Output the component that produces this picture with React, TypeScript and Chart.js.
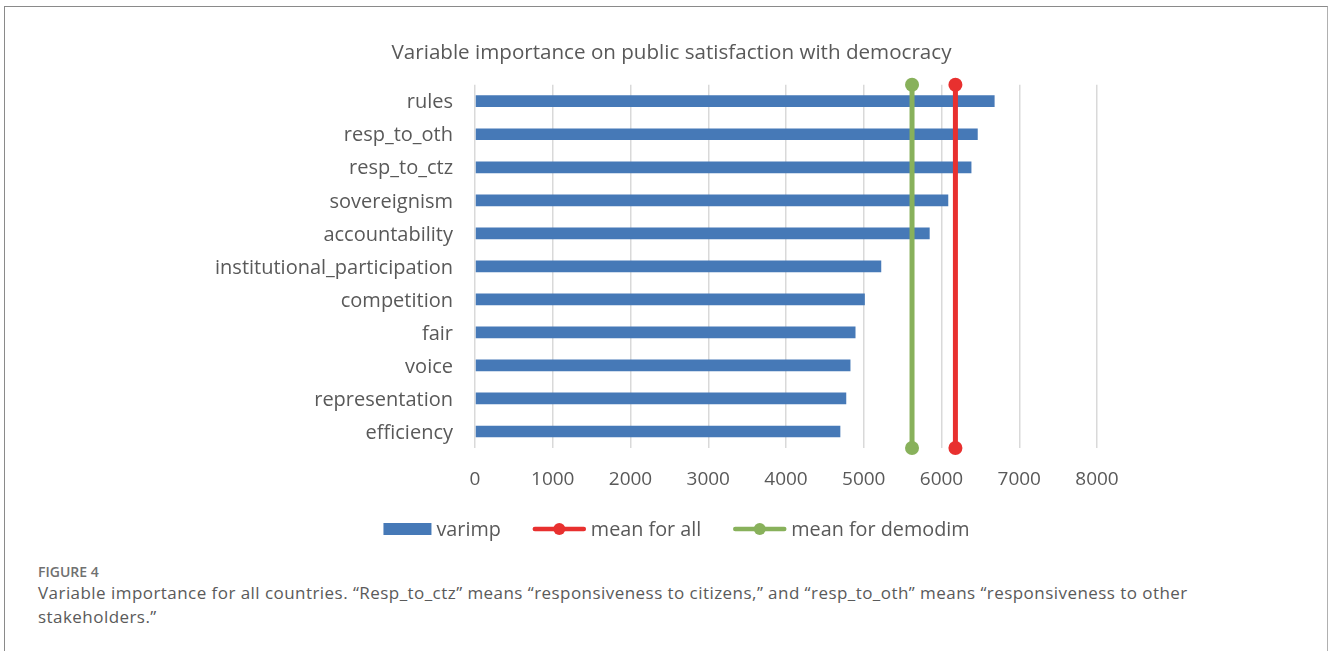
import React, { useEffect, useRef } from "react";
import { Chart, registerables } from "chart.js";

Chart.register(...registerables);

// Variable importance scores, top to bottom
const categories = [
  "rules",
  "resp_to_oth",
  "resp_to_ctz",
  "sovereignism",
  "accountability",
  "institutional_participation",
  "competition",
  "fair",
  "voice",
  "representation",
  "efficiency",
];
const varimp = [6683, 6466, 6385, 6087, 5848, 5225, 5014, 4894, 4829, 4775, 4699];

// Reference means, drawn as vertical lines spanning the plot
const meanForAll = 6179;
const meanForDemodim = 5621;
const meanSpan = [0, 1];

const xMin = 0;
const xMax = 8000;
const xStep = 1000;

const seriesNames = ["varimp", "mean for all", "mean for demodim"];

const FONT = "'Open Sans', sans-serif";
const TEXT = "#595959";
const BLUE = "#4679B7";
const RED = "#E8302F";
const GREEN = "#88B15B";

const PAD_LEFT = 13;

// Draws the series key under the axis: box for bars, line-with-dot for means
const seriesKey = {
  id: "seriesKey",
  afterDraw(chart: any) {
    const ctx = chart.ctx as CanvasRenderingContext2D;
    ctx.save();
    ctx.font = `19.8px ${FONT}`;
    ctx.textBaseline = "middle";
    const colors = [BLUE, RED, GREEN];
    const symW = [48, 53, 53];
    const symGap = 5;
    const itemGap = 32;
    const widths = seriesNames.map((n, i) => symW[i] + symGap + ctx.measureText(n).width);
    const total = widths.reduce((a, b) => a + b, 0) + itemGap * (seriesNames.length - 1);
    const cx = (PAD_LEFT + chart.width) / 2 + 5;
    const y = 522;
    let x = cx - total / 2;
    seriesNames.forEach((name, i) => {
      if (i === 0) {
        ctx.fillStyle = colors[i];
        ctx.fillRect(x, y - 6, symW[i], 12);
      } else {
        ctx.strokeStyle = colors[i];
        ctx.lineWidth = 4.5;
        ctx.lineCap = "round";
        ctx.beginPath();
        ctx.moveTo(x + 2, y);
        ctx.lineTo(x + symW[i] - 2, y);
        ctx.stroke();
        ctx.fillStyle = colors[i];
        ctx.beginPath();
        ctx.arc(x + symW[i] / 2, y, 6, 0, Math.PI * 2);
        ctx.fill();
      }
      ctx.fillStyle = TEXT;
      ctx.textAlign = "left";
      ctx.fillText(name, x + symW[i] + symGap, y + 1);
      x += widths[i] + itemGap;
    });
    ctx.restore();
  },
};

function VarImpChart() {
  const ref = useRef<HTMLCanvasElement | null>(null);

  useEffect(() => {
    if (!ref.current) return;
    const chart = new Chart(ref.current, {
      type: "bar",
      data: {
        labels: categories,
        datasets: [
          {
            type: "bar",
            label: seriesNames[0],
            data: varimp,
            indexAxis: "y",
            xAxisID: "x",
            yAxisID: "y",
            backgroundColor: BLUE,
            borderWidth: 0,
            categoryPercentage: 1,
            barPercentage: 0.355,
            order: 2,
          } as any,
          {
            type: "scatter",
            label: seriesNames[1],
            data: meanSpan.map((v) => ({ x: meanForAll, y: v })),
            xAxisID: "x",
            yAxisID: "y2",
            showLine: true,
            borderColor: RED,
            backgroundColor: RED,
            borderWidth: 5,
            pointRadius: 7,
            pointBorderWidth: 0,
            clip: false,
            order: 1,
          } as any,
          {
            type: "scatter",
            label: seriesNames[2],
            data: meanSpan.map((v) => ({ x: meanForDemodim, y: v })),
            xAxisID: "x",
            yAxisID: "y2",
            showLine: true,
            borderColor: GREEN,
            backgroundColor: GREEN,
            borderWidth: 5,
            pointRadius: 7,
            pointBorderWidth: 0,
            clip: false,
            order: 1,
          } as any,
        ],
      },
      options: {
        responsive: false,
        animation: false,
        events: [],
        layout: { padding: { left: PAD_LEFT, right: 0, top: 0, bottom: 44 } },
        plugins: {
          legend: { display: false },
          tooltip: { enabled: false },
          title: {
            display: true,
            text: "Variable importance on public satisfaction with democracy",
            color: TEXT,
            font: { family: FONT, size: 20.6, weight: "normal" },
            padding: { top: 34, bottom: 19 },
          },
        },
        scales: {
          x: {
            type: "linear",
            position: "bottom",
            offset: false,
            min: xMin,
            max: xMax,
            ticks: {
              stepSize: xStep,
              color: TEXT,
              font: { family: FONT, size: 19 },
              padding: 20,
              callback: (v: any) => String(v),
            },
            grid: { color: "#D9D9D9", lineWidth: 1.5, drawTicks: false, offset: false },
            border: { display: false },
            afterFit: (s: any) => {
              s.height = 60;
            },
          },
          y: {
            type: "category",
            position: "left",
            offset: true,
            ticks: { color: TEXT, font: { family: FONT, size: 20 }, padding: 22, labelOffset: 1.5 },
            grid: { display: false, drawTicks: false },
            border: { display: false },
            afterFit: (s: any) => {
              s.width = 470 - PAD_LEFT;
            },
          },
          y2: {
            type: "linear",
            position: "right",
            min: 0,
            max: 1,
            ticks: { display: false },
            grid: { display: false, drawTicks: false },
            border: { display: false },
            afterFit: (s: any) => {
              s.width = 228;
            },
          },
        },
      } as any,
      plugins: [seriesKey],
    });
    return () => chart.destroy();
  }, []);

  return <canvas ref={ref} width={1320} height={545} style={{ display: "block" }} />;
}

export default function App() {
  return (
    <div
      style={{
        position: "absolute",
        left: 4,
        top: 6,
        width: 1324,
        height: 700,
        boxSizing: "border-box",
        borderTop: "1px solid #8a8a8a",
        borderLeft: "1px solid #8a8a8a",
        borderRight: "1px solid #b0b0b0",
        background: "#fff",
      }}
    >
      <VarImpChart />
      <div
        style={{
          position: "absolute",
          left: 33,
          top: 556,
          fontFamily: "'Open Sans', sans-serif",
          fontSize: 14,
          fontWeight: 600,
          color: "#707070",
          lineHeight: "18px",
        }}
      >
        FIGURE 4
      </div>
      <div
        style={{
          position: "absolute",
          left: 33,
          top: 574,
          fontFamily: "'Open Sans', sans-serif",
          fontSize: 17,
          letterSpacing: 0.45,
          color: "#5a5a5a",
          lineHeight: "24px",
          whiteSpace: "nowrap",
        }}
      >
        Variable importance for all countries. “Resp_to_ctz” means “responsiveness to citizens,” and “resp_to_oth” means “responsiveness to other
        <br />
        stakeholders.”
      </div>
    </div>
  );
}
